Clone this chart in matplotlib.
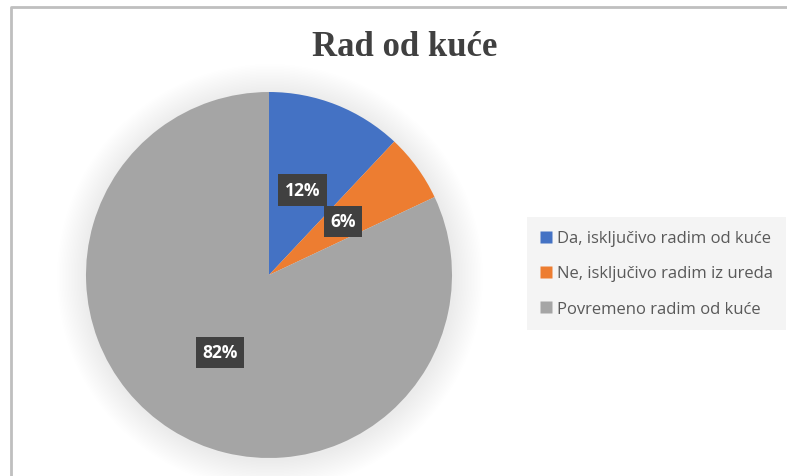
import matplotlib
matplotlib.use("Agg")
import matplotlib.pyplot as plt
from matplotlib.patches import Circle
from matplotlib.lines import Line2D

categories = ["Da, isključivo radim od kuće", "Ne, isključivo radim iz ureda", "Povremeno radim od kuće"]
values = [12, 6, 82]
colors = ["#4472C4", "#ED7D31", "#A5A5A5"]
title = "Rad od kuće"

W, H = 787, 477
fig = plt.figure(figsize=(W / 100, H / 100), dpi=100)
fig.patch.set_facecolor("white")
ax = fig.add_axes([0, 0, 1, 1])

# border of the chart area
ax.plot([11, 11, W], [0, H - 8, H - 8], color="#BFBFBF", lw=2, solid_capstyle="butt")

cx, cy, r = 269, H - 276, 183

# soft shadow
n = 20
for i in range(n):
    rr = r + 30 * (1 - i / n)
    ax.add_patch(Circle((cx + 1, cy - 2), rr, color="#000000", alpha=0.005, lw=0, zorder=1))

wedges, texts, autotexts = ax.pie(
    values, colors=colors, startangle=90, counterclock=False,
    center=(cx, cy), radius=r, autopct="%.0f%%", pctdistance=0.5,
    wedgeprops=dict(linewidth=0, zorder=2), frame=True,
    textprops=dict(color="white", fontsize=12.5, fontweight="bold", family="Open Sans"),
)
ax.set_xlim(0, W)
ax.set_ylim(0, H)
ax.set_aspect("equal")
ax.axis("off")
for t in autotexts:
    t.set_zorder(5)
    t.set_bbox(dict(boxstyle="square,pad=0.38", facecolor="#404040", edgecolor="none"))

ax.text(405, H - 47, title, ha="center", va="center", fontsize=25, fontweight="bold",
        family="Liberation Serif", color="#404040")

handles = [Line2D([0], [0], marker="s", linestyle="none", markersize=8.5,
                  markerfacecolor=c, markeredgecolor="none") for c in colors]
leg = fig.legend(handles, categories, loc="upper left", bbox_to_anchor=(527 / W, 1 - 218 / H),
                 borderaxespad=0, frameon=True, fancybox=False, handletextpad=0.3,
                 labelspacing=1.15, borderpad=0.8, handlelength=0.7,
                 prop=dict(family="Open Sans", size=12))
leg.get_frame().set_facecolor("#F4F4F4")
leg.get_frame().set_edgecolor("none")
leg.get_frame().set_alpha(1)
for t in leg.get_texts():
    t.set_color("#595959")

fig.savefig("out.png", dpi=100)
